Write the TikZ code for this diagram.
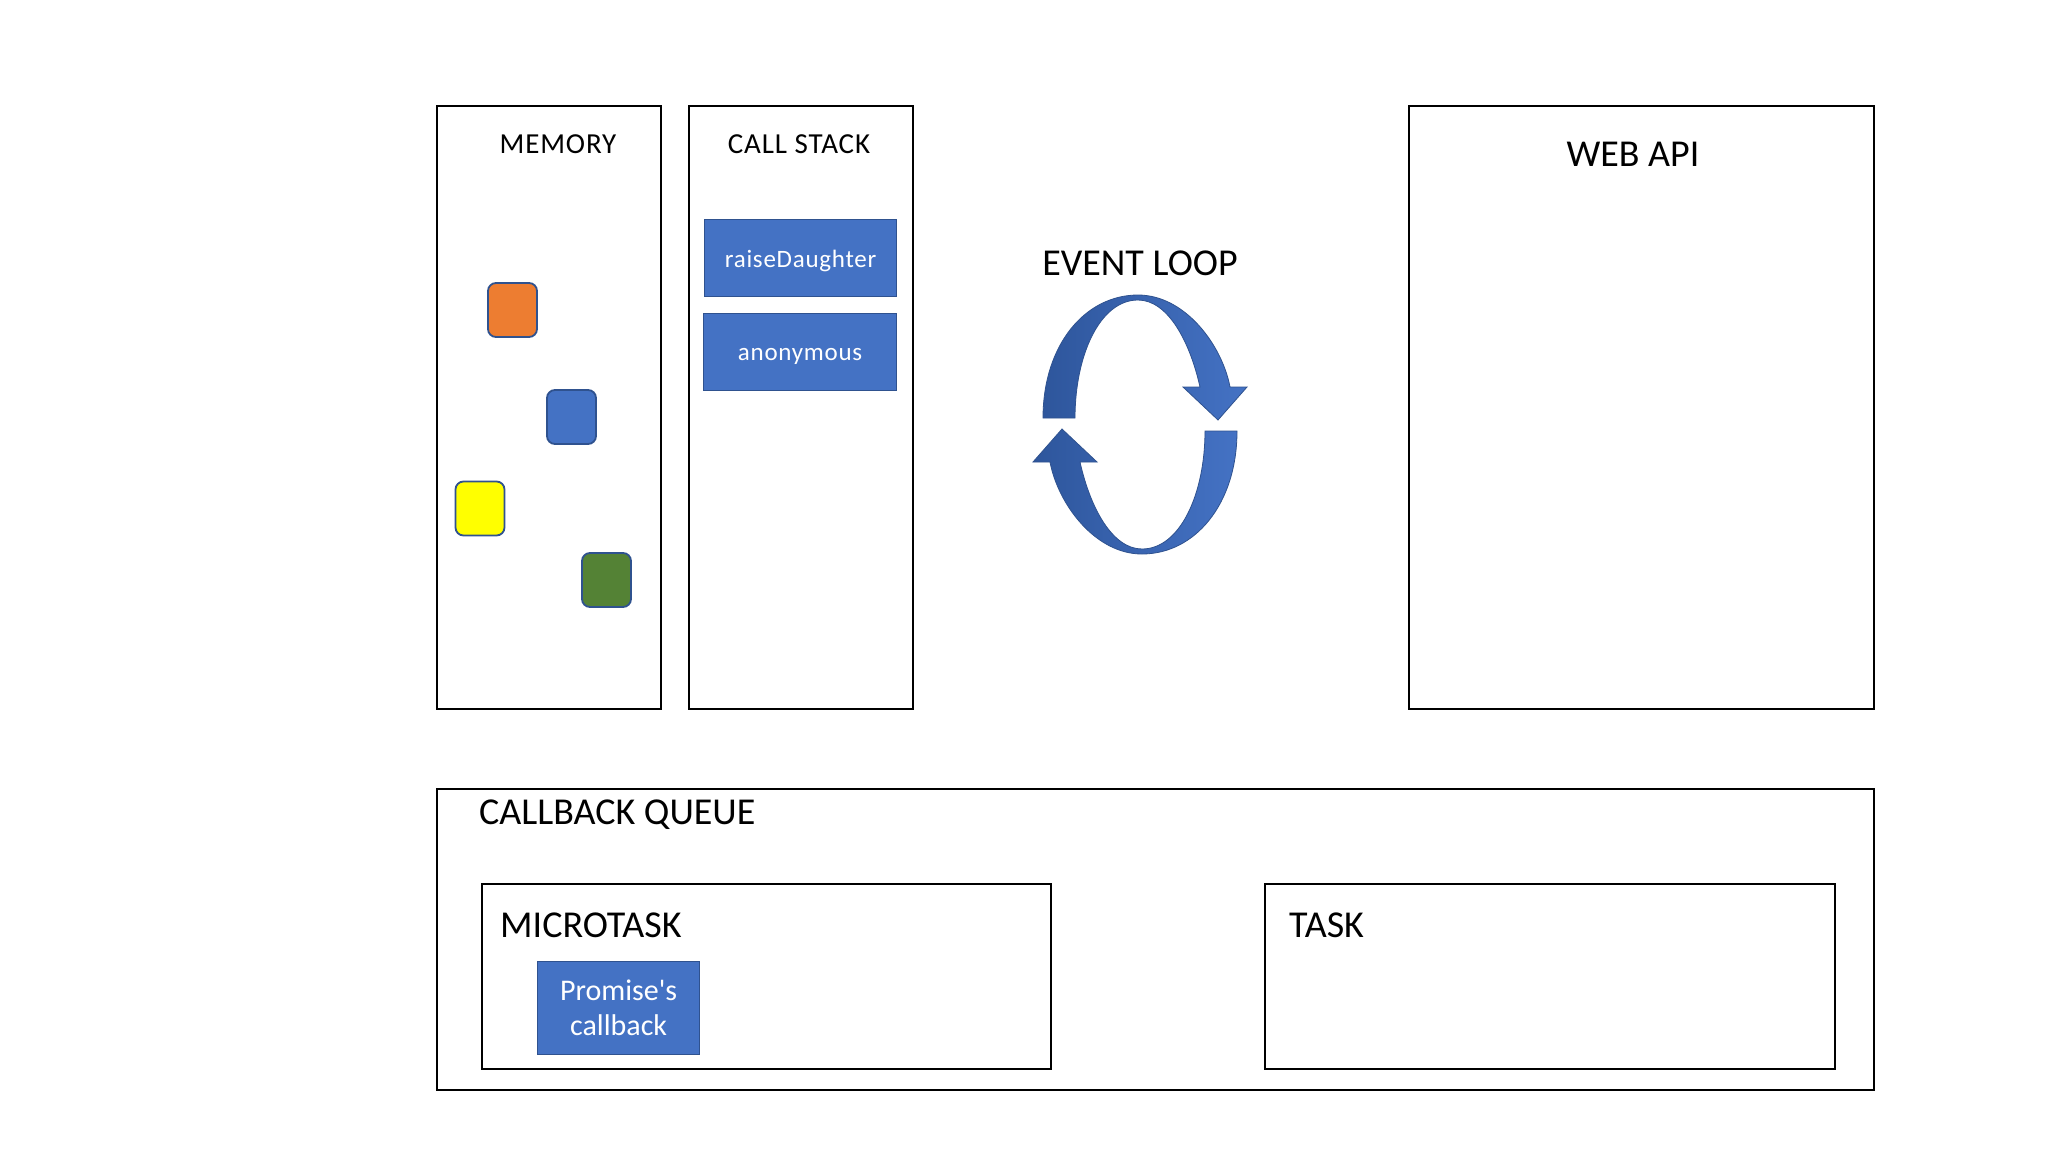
\documentclass[tikz,border=0pt]{standalone}
\usepackage{fontspec}
\setmainfont{Carlito}
\definecolor{boxblue}{HTML}{4472C4}
\definecolor{edgeblue}{HTML}{2F528F}
\definecolor{darkblue}{HTML}{2E569C}
\definecolor{sqorange}{HTML}{ED7D31}
\definecolor{sqyellow}{HTML}{FFFF00}
\definecolor{sqgreen}{HTML}{548235}
\tikzset{
  panel/.style={draw=black, line width=2pt, fill=white, anchor=north west, inner sep=0pt},
  fnbox/.style={draw=edgeblue, line width=1.2pt, fill=boxblue, text=white, anchor=north west, inner sep=0pt, align=center},
  fntext/.style={text=white, inner sep=0pt, font=\fontsize{25}{30}\selectfont\addfontfeature{LetterSpace=3}},
  sq/.style={draw=edgeblue, line width=1.8pt, rounded corners=8pt, minimum width=49pt, minimum height=54pt, inner sep=0pt},
  smalltitle/.style={font=\fontsize{29}{35}\selectfont\addfontfeature{LetterSpace=3}, anchor=base, inner sep=0pt},
  bigtitle/.style={font=\fontsize{38}{45}\selectfont, anchor=base, inner sep=0pt},
  bigleft/.style={font=\fontsize{38}{45}\selectfont, anchor=base west, inner sep=0pt},
  looparrow/.style={draw=edgeblue, line width=0.8pt, left color=darkblue, right color=boxblue}
}
\begin{document}
\begin{tikzpicture}[x=1pt,y=-1pt]
\useasboundingbox[fill=white] (0,0) rectangle (2048,1152);
% top panels
\node[panel, minimum width=224pt, minimum height=603.5pt] (mem) at (436,104.5) {};
\node[panel, minimum width=224pt, minimum height=603.5pt] (stack) at (688,104.5) {};
\node[panel, minimum width=465pt, minimum height=603.5pt] (webapi) at (1408,104.5) {};
\node[smalltitle] (memlbl) at (558,153) {MEMORY};
\node[smalltitle] (stacklbl) at (799,153) {CALL STACK};
\node[bigtitle] (weblbl) at (1633,166) {WEB API};
% memory squares
\node[sq, fill=sqorange] (sq1) at (512.5,310) {};
\node[sq, fill=boxblue] (sq2) at (571.5,417) {};
\node[sq, fill=sqyellow] (sq3) at (480,508.5) {};
\node[sq, fill=sqgreen] (sq4) at (606.5,580) {};
% call stack frames
\node[fnbox, minimum width=192pt, minimum height=77pt] (raise) at (704,219) {};
\node[fntext] (raiselbl) at ([yshift=-3pt]raise.center) {raiseDaughter};
\node[fnbox, minimum width=193pt, minimum height=77pt] (anon) at (703,313) {};
\node[fntext] (anonlbl) at ([yshift=-4pt]anon.center) {anonymous};
% event loop
\node[bigtitle] (looplbl) at (1140,275) {EVENT LOOP};
\path[looparrow] (1043,418) .. controls (1043,345) and (1085,295) .. (1138,295)
  .. controls (1185,295) and (1222,345) .. (1230,387) -- (1247,387) -- (1218,420)
  -- (1183,387) -- (1200,387) .. controls (1190,342) and (1168,300) .. (1138,300)
  .. controls (1100,300) and (1075,355) .. (1075,418) -- cycle;
\begin{scope}[rotate around={180:(1140,424.5)}]
\path[looparrow] (1043,418) .. controls (1043,345) and (1085,295) .. (1138,295)
  .. controls (1185,295) and (1222,345) .. (1230,387) -- (1247,387) -- (1218,420)
  -- (1183,387) -- (1200,387) .. controls (1190,342) and (1168,300) .. (1138,300)
  .. controls (1100,300) and (1075,355) .. (1075,418) -- cycle;
\end{scope}
% callback queue
\node[panel, minimum width=1437pt, minimum height=301.5pt] (queue) at (436,787.5) {};
\node[bigleft] (queuelbl) at (479,824) {CALLBACK QUEUE};
\node[panel, minimum width=569pt, minimum height=185pt] (micro) at (481,883) {};
\node[bigleft] (microlbl) at (500,937) {MICROTASK};
\node[panel, minimum width=570pt, minimum height=185pt] (task) at (1264,883) {};
\node[bigleft] (tasklbl) at (1289,937) {TASK};
\node[fnbox, minimum width=162pt, minimum height=93pt, font=\fontsize{30}{35}\selectfont] (promise) at (537,961) {Promise\textquotesingle s\\callback};
\end{tikzpicture}
\end{document}
